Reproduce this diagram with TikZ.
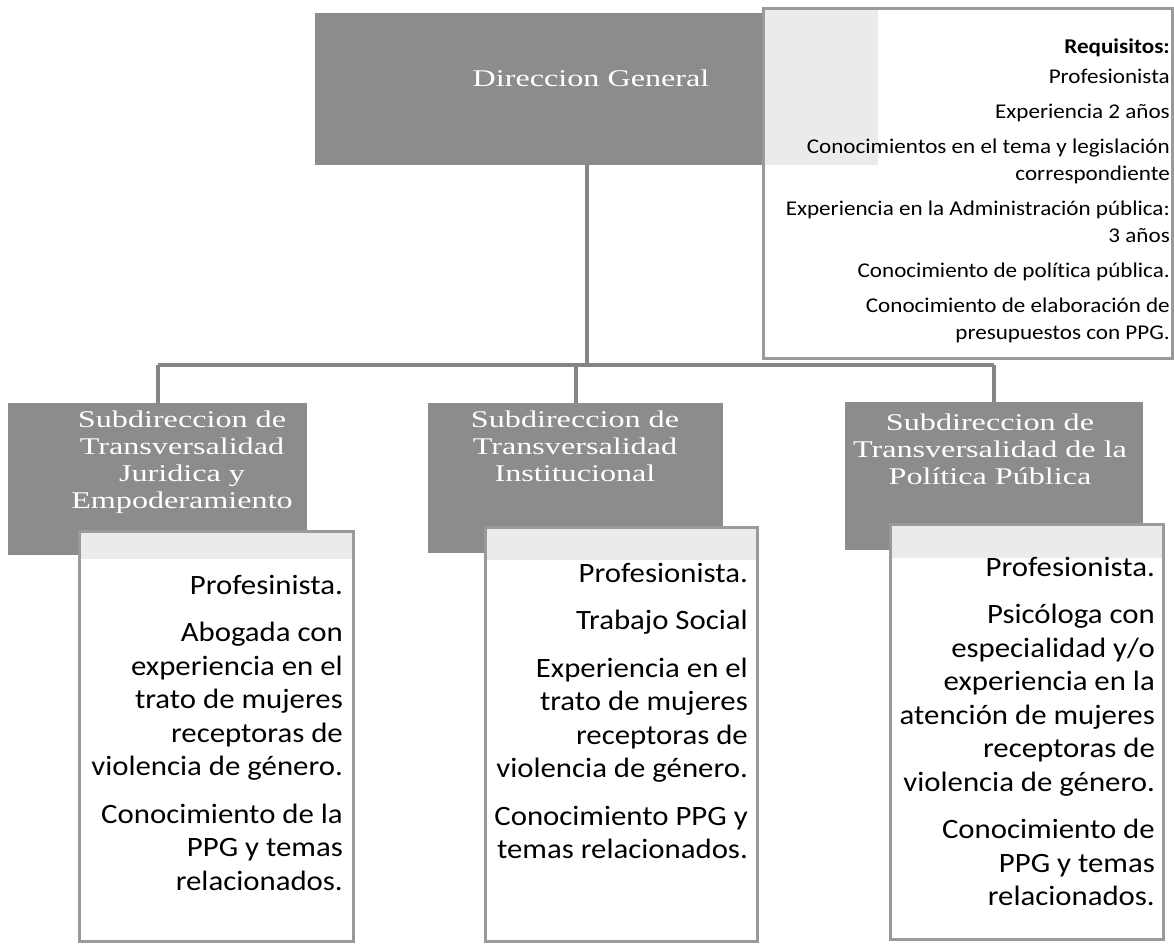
\documentclass[tikz,border=0pt]{standalone}
\usepackage{fontspec}
\setmainfont[FakeStretch=1.1, Ligatures=NoCommon]{Carlito}
\newfontfamily\headfont[FakeStretch=1.34]{Liberation Serif}
\definecolor{boxgray}{HTML}{8C8C8C}
\definecolor{linegray}{HTML}{858585}
\definecolor{framegray}{HTML}{9A9A9A}
\definecolor{bandgray}{HTML}{EBEBEB}
\tikzset{
  graybox/.style={fill=boxgray, anchor=north west, inner sep=0pt},
  whitebox/.style={fill=white, draw=framegray, line width=3pt, anchor=north west, inner sep=0pt,
    path picture={\fill[bandgray] (path picture bounding box.north west) rectangle ([yshift=-#1]path picture bounding box.north east);}},
  headtext/.style={align=center, text=white, inner sep=0pt, font=\headfont\fontsize{24}{27}\selectfont},
  bodytext/.style={anchor=north east, align=right, inner sep=0pt, font=\fontsize{28}{33.5}\selectfont},
  reqtext/.style={anchor=north east, align=right, inner sep=0pt, font=\fontsize{21}{27}\selectfont},
  link/.style={draw=linegray, line width=4pt}
}
\begin{document}
\begin{tikzpicture}[x=1pt,y=-1pt]
\useasboundingbox (0,0) rectangle (1174,944);
\node[graybox, minimum width=563, minimum height=152] (dir) at (315,13) {};
\node[fill=white, anchor=north west, inner sep=0pt, minimum width=409, minimum height=349,
  path picture={\fill[bandgray] (path picture bounding box.north west) rectangle (dir.south east);}] (req) at (763,9) {};
\draw[framegray, line width=3pt] (req.north west) rectangle (req.south east);
\node[headtext] (dirlabel) at (591,78) {Direccion General};
\node[reqtext] (reqlabel) at (1170,39) {\textbf{Requisitos:}\\[3pt]
  Profesionista\\[8pt]
  Experiencia 2 años\\[8pt]
  Conocimientos en el tema y legislación\\ correspondiente\\[8pt]
  Experiencia en la Administración pública:\\ 3 años\\[8pt]
  Conocimiento de política pública.\\[8pt]
  Conocimiento de elaboración de\\ presupuestos con PPG.};

\node[graybox, minimum width=299, minimum height=152] (sub1) at (8,403) {};
\node[graybox, minimum width=295, minimum height=150] (sub2) at (428,403) {};
\node[graybox, minimum width=298, minimum height=148] (sub3) at (845,402) {};

\coordinate (hub) at (587,365);
\draw[link] (dir.south -| hub) -- (hub);
\draw[link] (sub1.north |- hub) -- (sub3.north |- hub);
\foreach \s in {sub1,sub2,sub3}
  \draw[link] (\s.north |- hub) -- (\s.north);

\node[headtext] (sub1label) at (182,462) {Subdireccion de\\ Transversalidad\\ Juridica y\\ Empoderamiento};
\node[headtext] (sub2label) at (575,446) {Subdireccion de\\ Transversalidad\\ Institucional};
\node[headtext] (sub3label) at (990,449) {Subdireccion de\\ Transversalidad de la\\ Política Pública};

\node[whitebox=27pt, minimum width=274, minimum height=410] (req1) at (78,530) {};
\node[whitebox=32pt, minimum width=272, minimum height=414] (req2) at (484,526) {};
\node[whitebox=33pt, minimum width=273, minimum height=415] (req3) at (889,523) {};

\node[bodytext] (req1text) at (343,575) {Profesinista.\\[14pt]
  Abogada con\\ experiencia en el\\ trato de mujeres\\ receptoras de\\ violencia de género.\\[14pt]
  Conocimiento de la\\ PPG y temas\\ relacionados.};
\node[bodytext] (req2text) at (748,563) {Profesionista.\\[14pt]
  Trabajo Social\\[14pt]
  Experiencia en el\\ trato de mujeres\\ receptoras de\\ violencia de género.\\[14pt]
  Conocimiento PPG y\\ temas relacionados.};
\node[bodytext] (req3text) at (1155,557) {Profesionista.\\[14pt]
  Psicóloga con\\ especialidad y/o\\ experiencia en la\\ atención de mujeres\\ receptoras de\\ violencia de género.\\[14pt]
  Conocimiento de\\ PPG y temas\\ relacionados.};
\end{tikzpicture}
\end{document}
